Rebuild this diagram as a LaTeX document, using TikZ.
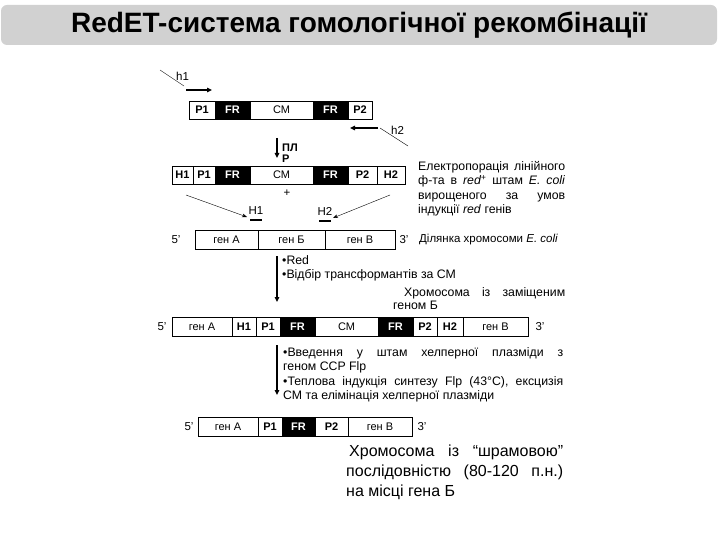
\documentclass[tikz,border=0pt]{standalone}
\usepackage{fontspec}
\setmainfont{Liberation Sans}
\usetikzlibrary{arrows.meta}
\tikzset{
 wseg/.style={draw,fill=white,inner sep=0pt,outer sep=0pt,anchor=west,font=\fontsize{11}{12}\selectfont},
 bseg/.style={draw,fill=black,text=white,inner sep=0pt,outer sep=0pt,anchor=west,font=\fontsize{11}{12}\selectfont\bfseries},
 lab/.style={inner sep=0pt,font=\fontsize{11.5}{12}\selectfont},
 txt/.style={inner sep=0pt,anchor=north west,align=left,font=\fontsize{12.3}{14.5}\selectfont},
 bigtxt/.style={inner sep=0pt,anchor=north west,align=left,font=\fontsize{16}{20}\selectfont},
 arr/.style={line width=1.3pt,-{Triangle[length=5pt,width=4.5pt]}},
 thin/.style={line width=0.4pt},
}
% \sg{name}{x1}{x2}{yc}{h}{style}{text}
\newcommand{\sg}[7]{\pgfmathsetmacro\ww{#3-#2}\node[#6,minimum width=\ww pt,minimum height=#5pt] (#1) at (#2,#4) {#7};}
\newcommand{\jl}[2]{\makebox[#1pt][s]{#2}}
\begin{document}
\begin{tikzpicture}[x=1pt,y=-1pt]
\useasboundingbox (0,0) rectangle (720,540);
\node[fill=black!18,rounded corners=6pt,minimum width=716pt,minimum height=40pt,inner sep=0pt,font=\fontsize{28}{30}\selectfont\bfseries] (title) at (359,25) {RedET-система гомологічної рекомбінації};
% row 1
\coordinate (h1a) at (160,70); \coordinate (h1b) at (184,86);
\coordinate (h1c) at (186,90); \coordinate (h1d) at (212,90);
\draw[thin] (h1a) -- (h1b);
\draw[arr] (h1c) -- (h1d);
\node[lab,anchor=west] (h1) at (176,76) {h1};
\sg{a1}{189}{215}{110}{18}{wseg}{\bfseries P1}
\sg{a2}{215}{250}{110}{18}{bseg}{FR}
\sg{a3}{250}{313}{110}{18}{wseg}{СМ}
\sg{a4}{313}{348}{110}{18}{bseg}{FR}
\sg{a5}{348}{372}{110}{18}{wseg}{\bfseries P2}
\coordinate (h2a) at (378,128); \coordinate (h2b) at (350,128);
\coordinate (h2c) at (380,128); \coordinate (h2d) at (408,146);
\draw[arr] (h2a) -- (h2b);
\draw[thin] (h2c) -- (h2d);
\node[lab,anchor=west] (h2) at (391,130) {h2};
% arrow PLR
\coordinate (d1a) at (277,138); \coordinate (d1b) at (277,158);
\draw[arr] (d1a) -- (d1b);
\node[lab,anchor=west,font=\fontsize{11}{12}\selectfont\bfseries] (plr1) at (282,148) {ПЛ};
\node[lab,anchor=west,font=\fontsize{11}{12}\selectfont\bfseries] (plr2) at (282,159) {Р};
% row 2
\sg{b0}{172}{193}{175}{18}{wseg}{\bfseries H1}
\sg{b1}{193}{215}{175}{18}{wseg}{\bfseries P1}
\sg{b2}{215}{250}{175}{18}{bseg}{FR}
\sg{b3}{250}{313}{175}{18}{wseg}{СМ}
\sg{b4}{313}{348}{175}{18}{bseg}{FR}
\sg{b5}{348}{377}{175}{18}{wseg}{\bfseries P2}
\sg{b6}{377}{405}{175}{18}{wseg}{\bfseries H2}
\node[lab] (plus) at (287,193) {+};
\node[lab] (H1) at (256,211) {H1};
\node[lab] (H2) at (325,211) {H2};
\draw[line width=2.5pt] (250,220) -- (262,220);
\draw[line width=2.5pt] (319,221) -- (331,221);
\coordinate (l1) at (186,195); \coordinate (l2) at (247,217);
\coordinate (r1) at (390,195); \coordinate (r2) at (333,218);
\draw[thin,-{Stealth[length=5pt]}] (l1) -- (l2);
\draw[thin,-{Stealth[length=5pt]}] (r1) -- (r2);
\node[txt] (t1) at (418,161) {\jl{147}{Електропорація лінійного}\\\jl{147}{ф-та в \textit{red\textsuperscript{+}} штам \textit{E. coli}}\\\jl{147}{вирощеного за умов}\\індукції \textit{red} генів};
% row 3
\node[lab] (c5) at (176,240) {5'};
\sg{c1}{195}{258}{240}{19}{wseg}{ген А}
\sg{c2}{258}{325}{240}{19}{wseg}{ген Б}
\sg{c3}{325}{395}{240}{19}{wseg}{ген В}
\node[lab] (c3p) at (404,240) {3'};
\node[lab,anchor=west] (t2) at (419,240) {Ділянка хромосоми \textit{E. coli}};
% arrow 2
\coordinate (d2a) at (277,256); \coordinate (d2b) at (277,302);
\draw[arr] (d2a) -- (d2b);
\node[txt] (t3) at (282,255) {•Red\\•Відбір трансформантів за СМ};
\node[txt] (t4) at (404,287) {\jl{161}{Хромосома із заміщеним}};
\node[txt] (t5) at (393,301) {геном Б};
% row 4
\node[lab] (e5) at (162,327) {5'};
\sg{e1}{172}{232}{327}{19}{wseg}{ген А}
\sg{e2}{232}{256}{327}{19}{wseg}{\bfseries H1}
\sg{e3}{256}{280}{327}{19}{wseg}{\bfseries P1}
\sg{e4}{280}{315}{327}{19}{bseg}{FR}
\sg{e5}{315}{378}{327}{19}{wseg}{СМ}
\sg{e6}{378}{413}{327}{19}{bseg}{FR}
\sg{e7}{413}{437}{327}{19}{wseg}{\bfseries P2}
\sg{e8}{437}{463}{327}{19}{wseg}{\bfseries H2}
\sg{e9}{463}{528}{327}{19}{wseg}{ген В}
\node[lab] (e3p) at (540,327) {3'};
% arrow 3
\coordinate (d3a) at (277,345); \coordinate (d3b) at (277,395);
\draw[arr] (d3a) -- (d3b);
\node[txt] (t6) at (283,347) {\jl{280}{•Введення у штам хелперної плазміди з}\\геном ССР Flp\\\jl{280}{•Теплова індукція синтезу Flp (43°С), ексцизія}\\СМ та елімінація хелперної плазміди};
% row 5
\node[lab] (f5) at (189,427) {5'};
\sg{f1}{198}{258}{427}{19}{wseg}{ген А}
\sg{f2}{258}{282}{427}{19}{wseg}{\bfseries P1}
\sg{f3}{282}{315}{427}{19}{bseg}{FR}
\sg{f4}{315}{348}{427}{19}{wseg}{\bfseries P2}
\sg{f5}{348}{412}{427}{19}{wseg}{ген В}
\node[lab] (f3p) at (422,427) {3'};
\node[bigtxt] (t7) at (346,445) {\jl{217}{\hspace{3pt}Хромосома із “шрамовою”}\\\jl{217}{послідовністю (80-120 п.н.)}\\на місці гена Б};
\end{tikzpicture}
\end{document}
